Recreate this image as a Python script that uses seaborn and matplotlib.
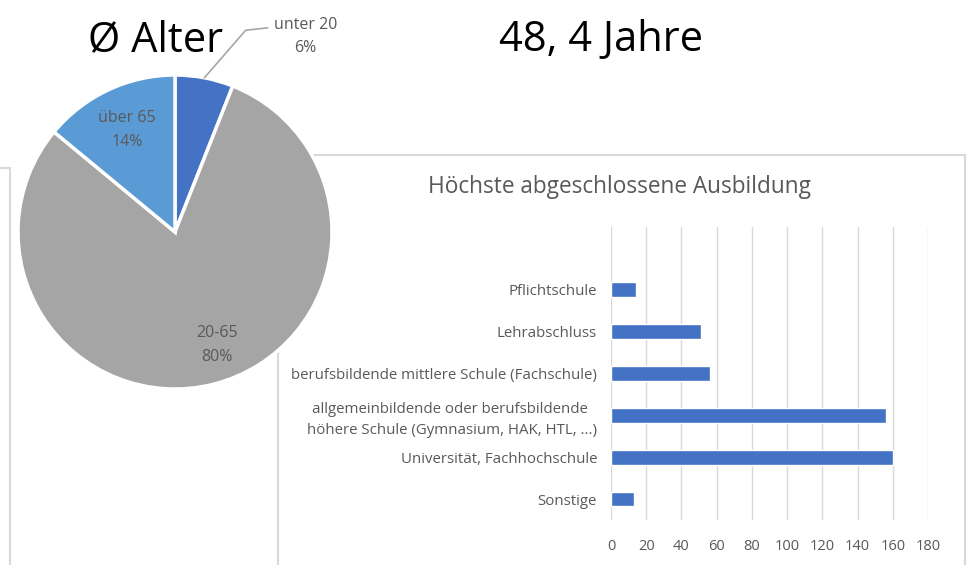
import numpy as np
import matplotlib.pyplot as plt
import seaborn as sns
from matplotlib.lines import Line2D

sns.set_theme(style="white")
plt.rcParams['font.family'] = ['Open Sans', 'DejaVu Sans']

# age groups (pie)
age_groups = ["unter 20", "20-65", "über 65"]
age_share = [6, 80, 14]
age_colors = ["#4472C4", "#A5A5A5", "#5B9BD5"]
avg_age_text = "48, 4 Jahre"

# education (bars)
edu_labels = ["Pflichtschule", "Lehrabschluss",
              "berufsbildende mittlere Schule (Fachschule)",
              "allgemeinbildende oder berufsbildende \nhöhere Schule (Gymnasium, HAK, HTL, ...)",
              "Universität, Fachhochschule", "Sonstige"]
edu_counts = [14, 51, 56, 156, 160, 13]
x_ticks = list(range(0, 181, 20))

W, H = 970, 565
GRAY_TXT = "#595959"
FRAME = "#D9D9D9"

fig = plt.figure(figsize=(W / 100, H / 100), dpi=100)


def fx(x):
    return x / W


def fy(y):
    return 1 - y / H


# panel frames (screenshot background)
for (x0, y0), (x1, y1) in [((0, 168), (10, 168)), ((10, 168), (10, 565)),
                           ((278, 155), (965, 155)), ((278, 155), (278, 565)),
                           ((965, 155), (965, 565))]:
    fig.add_artist(Line2D([fx(x0), fx(x1)], [fy(y0), fy(y1)], color=FRAME,
                          lw=1.5, transform=fig.transFigure, zorder=0))

# ---------------- bar chart ----------------
axb = fig.add_axes([fx(611), fy(520), 317 / W, 293 / H])
sns.barplot(x=edu_counts, y=edu_labels, orient="h", color="#4472C4",
            width=0.35, saturation=1, ax=axb, zorder=3)
axb.set_xlim(0, 180)
axb.set_ylim(len(edu_labels) - 0.5, -1.5)
axb.set_xticks(x_ticks)
axb.xaxis.grid(True, color=FRAME, lw=1)
axb.set_axisbelow(True)
for s in axb.spines.values():
    s.set_visible(False)
axb.tick_params(axis="both", length=0, labelcolor=GRAY_TXT, labelsize=10.5)
axb.tick_params(axis="y", labelsize=10.8)
axb.tick_params(axis="x", pad=14)
axb.tick_params(axis="y", pad=10)
for t in axb.get_yticklabels():
    t.set_horizontalalignment("right")
    t.set_multialignment("center")
    t.set_linespacing(1.5)
axb.set_xlabel("")
axb.set_ylabel("")
fig.text(fx(620), fy(187), "Höchste abgeschlossene Ausbildung", ha="center",
         va="center", fontsize=16.3, color=GRAY_TXT)

# ---------------- pie chart ----------------
r_px = 157
lim = 1.02
axp = fig.add_axes([fx(175 - r_px * lim), fy(232 + r_px * lim),
                    2 * r_px * lim / W, 2 * r_px * lim / H])
axp.set_zorder(5)
labels = [f"{g}\n{p}%" for g, p in zip(age_groups, age_share)]
wedges, texts = axp.pie(age_share, colors=age_colors, startangle=90,
                        counterclock=False, labels=labels, labeldistance=0.72,
                        wedgeprops=dict(edgecolor="white", linewidth=2.5),
                        textprops=dict(color=GRAY_TXT, fontsize=11.5,
                                       ha="center", va="center",
                                       multialignment="center",
                                       linespacing=1.65))
axp.set_xlim(-lim, lim)
axp.set_ylim(-lim, lim)
for w in wedges:
    w.set_clip_on(False)

# outside label with leader line for the small slice
w0 = wedges[0]
mid = np.deg2rad((w0.theta1 + w0.theta2) / 2)
sx, sy = np.cos(mid), np.sin(mid)
texts[0].set_position((0.83, 1.245))
axp.plot([sx, 0.45, 0.59], [sy, 1.285, 1.30], color="#A6A6A6", lw=1.2,
         clip_on=False)
texts[1].set_position((0.27, -0.72))

# big headline texts
fig.text(fx(156), fy(40), "Ø Alter", ha="center", va="center", fontsize=30,
         color="black")
fig.text(fx(601), fy(40), avg_age_text, ha="center", va="center", fontsize=30,
         color="black")

fig.savefig("out.png", dpi=100)
